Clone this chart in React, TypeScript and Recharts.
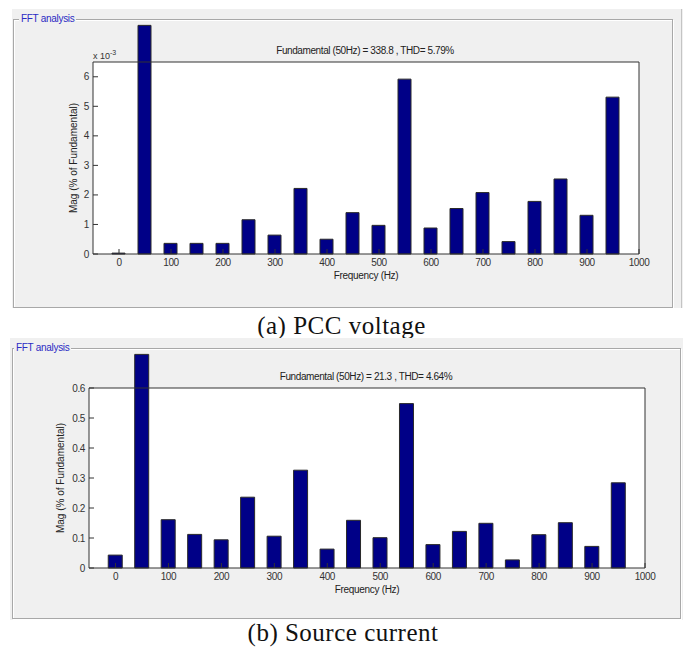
import React from "react";
import { BarChart, Bar, XAxis, YAxis, CartesianGrid } from "recharts";

// harmonic frequencies (Hz)
const freqs = [0, 50, 100, 150, 200, 250, 300, 350, 400, 450, 500, 550, 600, 650, 700, 750, 800, 850, 900, 950];

// (a) PCC voltage, x 10^-3 (50 Hz bar runs off the top of the axes)
const pccVoltage = [0.03, 7.74, 0.36, 0.36, 0.36, 1.16, 0.64, 2.22, 0.5, 1.4, 0.97, 5.92, 0.88, 1.54, 2.08, 0.42, 1.78, 2.54, 1.31, 5.31];

// (b) Source current
const sourceCurrent = [0.043, 0.712, 0.161, 0.112, 0.094, 0.236, 0.106, 0.326, 0.063, 0.159, 0.101, 0.548, 0.078, 0.122, 0.149, 0.027, 0.111, 0.151, 0.072, 0.284];

const freqTicks = [0, 100, 200, 300, 400, 500, 600, 700, 800, 900, 1000];
const voltTicks = [0, 1, 2, 3, 4, 5, 6];
const currTicks = [0, 0.1, 0.2, 0.3, 0.4, 0.5, 0.6];

const SANS = '"Liberation Sans", Arial, sans-serif';
const SERIF = '"Liberation Serif", "Times New Roman", serif';
const AXIS = "#333";
const BAR_FILL = "#000087";

const css = `
body { margin: 0; }
.fft-chart .recharts-bar, .fft-chart .recharts-bar * { clip-path: none !important; }
`;

type ChartProps = {
  values: number[];
  yDomain: [number, number];
  yTicks: number[];
  yFormat: (v: number) => string;
  top: number;
  height: number;
  margin: { top: number; right: number; bottom: number; left: number };
  barSize: number;
};

function FftChart({ values, yDomain, yTicks, yFormat, top, height, margin, barSize }: ChartProps) {
  const data = freqs.map((f, i) => ({ freq: f, mag: values[i] }));
  const tick = { fill: AXIS, fontSize: 10, fontFamily: SANS, letterSpacing: "-0.4px" };
  return (
    <div className="fft-chart" style={{ position: "absolute", left: 0, top }}>
      <BarChart width={683} height={height} data={data} margin={margin}>
        <CartesianGrid xAxisId="bottom" yAxisId="left" horizontal={false} vertical={false} fill="#ffffff" />
        <XAxis
          xAxisId="bottom"
          dataKey="freq"
          type="number"
          domain={[-50, 1000]}
          ticks={freqTicks}
          height={30}
          tickSize={-5}
          tickMargin={10}
          stroke={AXIS}
          tick={tick}
          interval={0}
        />
        <XAxis
          xAxisId="top"
          orientation="top"
          dataKey="freq"
          type="number"
          domain={[-50, 1000]}
          ticks={freqTicks}
          height={1}
          tickSize={-5}
          stroke={AXIS}
          tick={false}
          interval={0}
        />
        <YAxis
          yAxisId="left"
          domain={yDomain}
          ticks={yTicks}
          allowDataOverflow
          width={40}
          tickSize={-5}
          tickMargin={9}
          stroke={AXIS}
          tick={tick}
          tickFormatter={yFormat}
          interval={0}
        />
        <YAxis
          yAxisId="right"
          orientation="right"
          domain={yDomain}
          ticks={yTicks}
          allowDataOverflow
          width={1}
          tickSize={-5}
          stroke={AXIS}
          tick={false}
          interval={0}
        />
        <Bar
          xAxisId="bottom"
          yAxisId="left"
          dataKey="mag"
          barSize={barSize}
          fill={BAR_FILL}
          stroke="#2a2a2a"
          strokeWidth={1}
          isAnimationActive={false}
        />
      </BarChart>
    </div>
  );
}

function Abs({
  x,
  y,
  children,
  style,
}: {
  x: number;
  y: number;
  children: React.ReactNode;
  style?: React.CSSProperties;
}) {
  return (
    <div
      style={{
        position: "absolute",
        left: x,
        top: y,
        transform: "translate(-50%, -50%)",
        whiteSpace: "nowrap",
        lineHeight: 1,
        fontFamily: SANS,
        ...style,
      }}
    >
      {children}
    </div>
  );
}

function Panel({ bg, frame, label }: { bg: number[]; frame: number[]; label: number[] }) {
  return (
    <>
      <div
        style={{ position: "absolute", left: bg[0], top: bg[1], width: bg[2], height: bg[3], background: "#f0f0f0" }}
      />
      <div
        style={{
          position: "absolute",
          left: frame[0],
          top: frame[1],
          width: frame[2],
          height: frame[3],
          border: "1px solid #a8a8a8",
          boxShadow: "inset 1px 1px 0 #ffffff, 1px 1px 0 #ffffff",
          boxSizing: "border-box",
        }}
      />
      <div
        style={{
          position: "absolute",
          left: label[0],
          top: label[1],
          background: "#f0f0f0",
          padding: "0 2px",
          fontFamily: SANS,
          fontSize: 10,
          letterSpacing: "-0.3px",
          lineHeight: "12px",
          color: "#2b2bc4",
        }}
      >
        FFT analysis
      </div>
    </>
  );
}

export default function App() {
  const yLabel = { fontSize: 10, color: "#222", transform: "translate(-50%, -50%) rotate(-90deg)" };
  return (
    <div style={{ position: "relative", width: 683, height: 648, background: "#ffffff", overflow: "hidden" }}>
      <style>{css}</style>

      {/* (a) PCC voltage */}
      <Panel bg={[12, 9, 671, 299]} frame={[13, 19, 660, 289]} label={[19, 13]} />
      <div style={{ position: "absolute", left: 681, top: 9, width: 1, height: 299, background: "#c4c4c4" }} />
      <FftChart
        values={pccVoltage}
        yDomain={[0, 6.5]}
        yTicks={voltTicks}
        yFormat={(v) => String(v)}
        top={0}
        height={310}
        margin={{ top: 61, right: 43, bottom: 26, left: 53 }}
        barSize={13}
      />
      <Abs x={365} y={51} style={{ fontSize: 10, letterSpacing: "-0.4px", color: "#222" }}>
        Fundamental (50Hz) = 338.8 , THD= 5.79%
      </Abs>
      <div
        style={{ position: "absolute", left: 93, top: 49, fontFamily: SANS, fontSize: 9, color: "#333", lineHeight: 1, whiteSpace: "nowrap" }}
      >
        x 10<sup style={{ fontSize: 7, verticalAlign: "4px" }}>-3</sup>
      </div>
      <Abs x={74} y={158} style={yLabel}>
        Mag (% of Fundamental)
      </Abs>
      <Abs x={366} y={276} style={{ fontSize: 10, letterSpacing: "-0.3px", color: "#222" }}>
        Frequency (Hz)
      </Abs>
      <div
        style={{
          position: "absolute",
          left: 0,
          top: 314,
          width: 683,
          textAlign: "center",
          fontFamily: SERIF,
          fontSize: 25,
          letterSpacing: "0.5px",
          lineHeight: "24px",
          color: "#111",
        }}
      >
        (a) PCC voltage
      </div>

      {/* (b) Source current */}
      <Panel bg={[10, 338, 673, 282]} frame={[12, 348, 669, 271]} label={[14, 342]} />
      <FftChart
        values={sourceCurrent}
        yDomain={[0, 0.6]}
        yTicks={currTicks}
        yFormat={(v) => (v === 0 ? "0" : v.toFixed(1))}
        top={330}
        height={290}
        margin={{ top: 57, right: 37, bottom: 22, left: 49 }}
        barSize={14}
      />
      <Abs x={366} y={377} style={{ fontSize: 10, letterSpacing: "-0.4px", color: "#222" }}>
        Fundamental (50Hz) = 21.3 , THD= 4.64%
      </Abs>
      <Abs x={61} y={478} style={yLabel}>
        Mag (% of Fundamental)
      </Abs>
      <Abs x={367} y={590} style={{ fontSize: 10, letterSpacing: "-0.3px", color: "#222" }}>
        Frequency (Hz)
      </Abs>
      <div
        style={{
          position: "absolute",
          left: 0,
          top: 621,
          width: 686,
          textAlign: "center",
          fontFamily: SERIF,
          fontSize: 25,
          letterSpacing: "0.5px",
          lineHeight: "24px",
          color: "#111",
        }}
      >
        (b) Source current
      </div>
    </div>
  );
}
